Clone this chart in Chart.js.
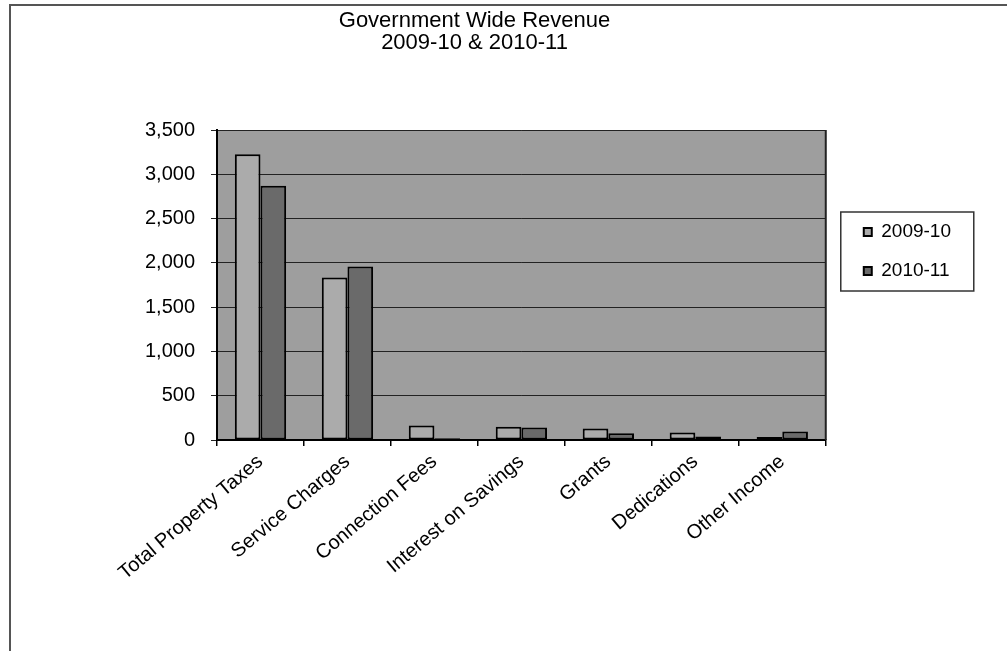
<!DOCTYPE html>
<html>
<head>
<meta charset="utf-8">
<script src="https://cdn.jsdelivr.net/npm/chart.js@4/dist/chart.umd.min.js"></script>
<style>
  html, body { margin: 0; padding: 0; background: #fff; }
  #wrap { position: relative; width: 1007px; height: 651px; overflow: hidden; }
  #frame { position: absolute; left: 9px; top: 4px; width: 1100px; height: 700px;
           border-left: 2px solid #555; border-top: 2px solid #555; }
  canvas { position: absolute; left: 0; top: 0; }
</style>
</head>
<body>
<div id="wrap">
  <div id="frame"></div>
  <canvas id="c" width="1007" height="651"></canvas>
</div>
<script>
// Revenue by source, in thousands of dollars
const categories = ['Total Property Taxes', 'Service Charges', 'Connection Fees',
  'Interest on Savings', 'Grants', 'Dedications', 'Other Income'];
const fy2009 = [3225, 1835, 165, 150, 130, 85, 35];
const fy2010 = [2870, 1960, 20, 142, 75, 40, 97];
const yTicks = [0, 500, 1000, 1500, 2000, 2500, 3000, 3500];
const seriesNames = ['2009-10', '2010-11'];
const titleLines = ['Government Wide Revenue', '2009-10 & 2010-11'];

const FONT = 'Arial, "Liberation Sans", Helvetica, sans-serif';

// Grey plot background, dark right edge, and a frame around the legend
const plotDecor = {
  id: 'plotDecor',
  beforeDraw(chart) {
    const a = chart.chartArea, ctx = chart.ctx;
    ctx.save();
    ctx.fillStyle = '#9e9e9e';
    ctx.fillRect(a.left, a.top, a.right - a.left, a.bottom - a.top);
    ctx.restore();
  },
  afterDraw(chart) {
    const a = chart.chartArea, ctx = chart.ctx;
    ctx.save();
    ctx.strokeStyle = '#222';
    ctx.lineWidth = 2;
    ctx.beginPath();
    ctx.moveTo(a.right, a.top);
    ctx.lineTo(a.right, a.bottom);
    ctx.stroke();
    const hb = chart.legend.legendHitBoxes;
    if (hb && hb.length) {
      const first = hb[0], last = hb[hb.length - 1];
      const x0 = first.left - 23, x1 = first.left + 110;
      const y0 = first.top + first.height / 2 - 20;
      const y1 = last.top + last.height / 2 + 20;
      ctx.strokeStyle = '#333';
      ctx.lineWidth = 1.5;
      ctx.strokeRect(x0, y0, x1 - x0, y1 - y0);
    }
    ctx.restore();
  }
};

new Chart(document.getElementById('c'), {
  type: 'bar',
  data: {
    labels: categories,
    datasets: [
      { label: seriesNames[0], data: fy2009, backgroundColor: '#ababab',
        borderColor: '#000', borderWidth: 2, borderSkipped: false },
      { label: seriesNames[1], data: fy2010, backgroundColor: '#6a6a6a',
        borderColor: '#000', borderWidth: 2, borderSkipped: false }
    ]
  },
  options: {
    responsive: false,
    animation: false,
    devicePixelRatio: 1,
    layout: { padding: { left: -12, right: 46, top: 0, bottom: 40 } },
    datasets: { bar: { categoryPercentage: 0.59, barPercentage: 1.0 } },
    plugins: {
      title: {
        display: true,
        text: titleLines,
        color: '#000',
        font: { family: FONT, size: 22, weight: 'normal', lineHeight: 1.0 },
        padding: { top: 10, bottom: 76 }
      },
      legend: {
        position: 'right',
        align: 'start',
        fullSize: false,
        title: { display: true, text: '', font: { size: 10, lineHeight: 1 },
                 padding: { top: 0, bottom: 62.5 } },
        labels: {
          color: '#000',
          font: { family: FONT, size: 19 },
          boxWidth: 8,
          boxHeight: 8,
          padding: 20
        }
      },
      tooltip: { enabled: false }
    },
    scales: {
      x: {
        grid: { display: true, drawOnChartArea: false, offset: true, tickLength: 6,
                color: '#000', lineWidth: 1.5 },
        border: { display: true, color: '#000', width: 2 },
        ticks: { color: '#000', font: { family: FONT, size: 20 },
                 minRotation: 40, maxRotation: 40, padding: 4, autoSkip: false },
        afterFit(s) { s.height = 171; }
      },
      y: {
        min: 0, max: 3500,
        afterBuildTicks(s) { s.ticks = yTicks.map(v => ({ value: v })); },
        grid: { color: '#222', lineWidth: 1, tickLength: 6, drawTicks: true },
        border: { display: true, color: '#000', width: 2 },
        ticks: { color: '#000', font: { family: FONT, size: 20 }, padding: 16,
                 callback: v => v.toLocaleString('en-US') },
        afterFit(s) { s.width = 229; }
      },
      gap: {
        position: 'right',
        display: true,
        grid: { display: false },
        border: { display: false },
        ticks: { display: false },
        afterFit(s) { s.width = 18; }
      }
    }
  },
  plugins: [plotDecor]
});
</script>
</body>
</html>
